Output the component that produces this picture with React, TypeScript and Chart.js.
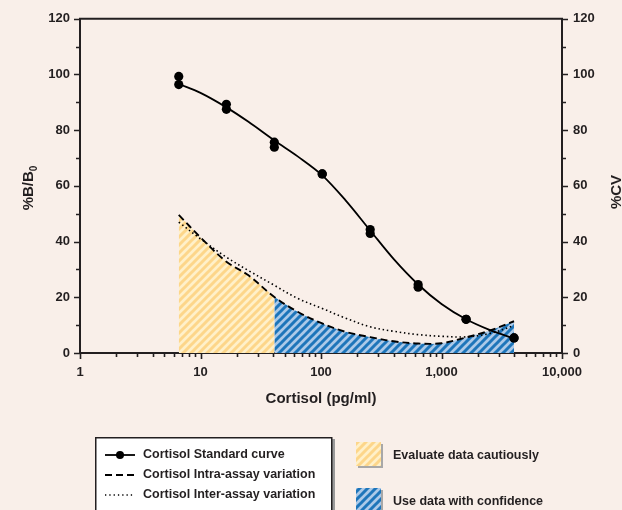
import { useEffect, useRef } from 'react';
import { Chart, registerables } from 'chart.js';

Chart.register(...registerables);

// Standard concentrations (pg/ml) and duplicate %B/B0 readings
const concentrations = [6.6, 16.4, 41, 102.4, 256, 640, 1600, 4000];
const replicateA = [99.3, 89.3, 75.7, 64.3, 44.3, 24.6, 12.1, 5.4];
const replicateB = [96.4, 87.5, 73.9, 64.3, 42.9, 23.6, 12.1, 5.4];

// Curves
const curveX = [6.6, 10, 16.4, 25, 41, 64, 102.4, 160, 256, 400, 640, 1000, 1600, 2500, 4000];
const standardCurve = [96.6, 93.4, 88.2, 83, 76.3, 70.6, 63.8, 54.8, 44, 33.8, 24.6, 17.6, 12.1, 8.3, 5.2];
const intraAssayCV = [49.6, 41.5, 32.8, 27.9, 20.1, 14.8, 10.6, 7.6, 5.7, 4.2, 3.4, 3.5, 5.6, 8, 11.4];
const interAssayCV = [47, 41, 34.4, 29.6, 24.3, 19.6, 16, 12.5, 9.4, 7.8, 6.6, 6, 5.8, 7, 9.8];
const cautionLimit = 41;

const yTickValues = [0, 20, 40, 60, 80, 100, 120];
const xDecades = [1, 10, 100, 1000, 10000];

const legendLines = [
  'Cortisol Standard curve',
  'Cortisol Intra-assay variation',
  'Cortisol Inter-assay variation',
];
const zoneLabels = ['Evaluate data cautiously', 'Use data with confidence'];

const BG = '#f9efe9';
const INK = '#231f20';
const FONT = '"Liberation Sans", Arial, Helvetica, sans-serif';

function makeStripes(bg: string, fg: string, lw: number) {
  const size = 8;
  const c = document.createElement('canvas');
  c.width = size;
  c.height = size;
  const g = c.getContext('2d')!;
  g.fillStyle = bg;
  g.fillRect(0, 0, size, size);
  g.strokeStyle = fg;
  g.lineWidth = lw;
  g.beginPath();
  for (const k of [0, size, 2 * size]) {
    g.moveTo(-2, k + 2);
    g.lineTo(k + 2, -2);
  }
  g.moveTo(size - 2, size * 2 + 2);
  g.lineTo(size * 2 + 2, size - 2);
  g.stroke();
  return g.createPattern(c, 'repeat')!;
}

export default function App() {
  const ref = useRef<HTMLCanvasElement>(null);

  useEffect(() => {
    document.body.style.margin = '0';
    document.body.style.background = BG;
    const canvas = ref.current!;
    const yellow = makeStripes('#fff0c9', '#fdd68a', 3.0);
    const blue = makeStripes('#abc9e8', '#1d75ba', 3.0);

    const pts = (xs: number[], ys: number[]) => xs.map((x, i) => ({ x, y: ys[i] }));
    const cautionPts = pts(curveX, intraAssayCV).filter((p) => p.x <= cautionLimit);
    const confidencePts = pts(curveX, intraAssayCV).filter((p) => p.x >= cautionLimit);
    const standards = concentrations.flatMap((c, i) => [
      { x: c, y: replicateA[i] },
      { x: c, y: replicateB[i] },
    ]);

    const decor = {
      id: 'decor',
      beforeDraw(chart: any) {
        const ctx = chart.ctx;
        ctx.save();
        ctx.fillStyle = BG;
        ctx.fillRect(0, 0, chart.width, chart.height);
        ctx.restore();
      },
      afterDraw(chart: any) {
        const ctx = chart.ctx as CanvasRenderingContext2D;
        const { left, right, top, bottom } = chart.chartArea;
        const xs = chart.scales.x;
        const ys = chart.scales.y;
        ctx.save();
        ctx.strokeStyle = INK;
        ctx.fillStyle = INK;
        // top border
        ctx.lineWidth = 2;
        ctx.beginPath();
        ctx.moveTo(left - 1, top);
        ctx.lineTo(right + 1, top);
        ctx.stroke();
        // y ticks both sides
        ctx.lineWidth = 1.6;
        ctx.beginPath();
        for (let v = 0; v <= 120; v += 10) {
          const y = Math.round(ys.getPixelForValue(v)) + 0.5;
          const len = v % 20 === 0 ? 6 : 4;
          ctx.moveTo(left, y);
          ctx.lineTo(left - len, y);
          ctx.moveTo(right, y);
          ctx.lineTo(right + len, y);
        }
        // x ticks (log)
        for (let d = 1; d < 10000; d *= 10) {
          for (let m = 1; m <= 10; m++) {
            const v = d * m;
            if (v > 10000) continue;
            const x = Math.round(xs.getPixelForValue(v)) + 0.5;
            const len = m === 1 || m === 10 ? 6 : 4;
            ctx.moveTo(x, bottom);
            ctx.lineTo(x, bottom + len);
          }
        }
        ctx.stroke();

        // axis titles
        ctx.textBaseline = 'middle';
        ctx.font = `bold 15px ${FONT}`;
        ctx.textAlign = 'center';
        ctx.fillText('Cortisol (pg/ml)', (left + right) / 2, 399);

        ctx.save();
        ctx.translate(29, 188);
        ctx.rotate(-Math.PI / 2);
        ctx.font = `bold 15px ${FONT}`;
        const main = '%B/B';
        const wMain = ctx.measureText(main).width;
        ctx.font = `bold 10px ${FONT}`;
        const wSub = ctx.measureText('0').width;
        const total = wMain + wSub;
        ctx.textAlign = 'left';
        ctx.font = `bold 15px ${FONT}`;
        ctx.fillText(main, -total / 2, 0);
        ctx.font = `bold 10px ${FONT}`;
        ctx.fillText('0', -total / 2 + wMain, 5);
        ctx.restore();

        ctx.save();
        ctx.translate(617, 192);
        ctx.rotate(-Math.PI / 2);
        ctx.font = `bold 15px ${FONT}`;
        ctx.textAlign = 'center';
        ctx.fillText('%CV', 0, 0);
        ctx.restore();

        // legend box
        ctx.fillStyle = '#9a9a9a';
        ctx.fillRect(97, 439, 238, 80);
        ctx.fillStyle = '#ffffff';
        ctx.fillRect(95, 437, 237, 80);
        ctx.strokeStyle = INK;
        ctx.lineWidth = 1.5;
        ctx.strokeRect(95.75, 437.75, 236, 80);

        const rowY = [455, 475, 495];
        ctx.font = `bold 12.5px ${FONT}`;
        ctx.textAlign = 'left';
        ctx.fillStyle = INK;
        legendLines.forEach((t, i) => ctx.fillText(t, 143, rowY[i]));
        // sample lines
        ctx.strokeStyle = '#000';
        ctx.lineWidth = 1.8;
        ctx.beginPath();
        ctx.moveTo(105, rowY[0]);
        ctx.lineTo(135, rowY[0]);
        ctx.stroke();
        ctx.fillStyle = '#000';
        ctx.beginPath();
        ctx.arc(120, rowY[0], 4, 0, Math.PI * 2);
        ctx.fill();
        ctx.setLineDash([7, 4]);
        ctx.beginPath();
        ctx.moveTo(105, rowY[1]);
        ctx.lineTo(135, rowY[1]);
        ctx.stroke();
        ctx.setLineDash([1.3, 3]);
        ctx.lineWidth = 1.3;
        ctx.beginPath();
        ctx.moveTo(105, rowY[2]);
        ctx.lineTo(135, rowY[2]);
        ctx.stroke();
        ctx.setLineDash([]);

        // zone swatches
        const sw = [
          { y: 442, pat: yellow, ty: 456 },
          { y: 488, pat: blue, ty: 502 },
        ];
        sw.forEach((s, i) => {
          ctx.fillStyle = '#a8a8a8';
          ctx.fillRect(358, s.y + 2, 25, 24);
          ctx.fillStyle = s.pat;
          ctx.fillRect(356, s.y, 25, 24);
          ctx.fillStyle = INK;
          ctx.font = `bold 12.5px ${FONT}`;
          ctx.fillText(zoneLabels[i], 393, s.ty);
        });
        ctx.restore();
      },
    };

    const tickFont = { family: FONT, size: 13, weight: 'bold' as const };
    const yAxisBase = {
      min: 0,
      max: 120,
      grid: { display: false, drawTicks: false },
      border: { display: true, color: INK, width: 2 },
      ticks: { stepSize: 20, padding: 10, color: INK, font: tickFont },
    };

    const smooth = { tension: 0.35, cubicInterpolationMode: 'default' };

    const chart = new Chart(canvas, {
      type: 'line',
      data: {
        datasets: [
          {
            label: 'standards',
            data: standards,
            showLine: false,
            pointRadius: 4.6,
            pointBackgroundColor: '#000',
            pointBorderColor: '#000',
            pointBorderWidth: 0,
            order: 0,
          },
          {
            label: 'curve',
            data: pts(curveX, standardCurve),
            borderColor: '#000',
            borderWidth: 1.8,
            pointRadius: 0,
            ...smooth,
            fill: false,
            order: 1,
          },
          {
            label: 'intra',
            data: pts(curveX, intraAssayCV),
            borderColor: '#000',
            borderWidth: 1.9,
            borderDash: [7, 4],
            pointRadius: 0,
            ...smooth,
            fill: false,
            yAxisID: 'y2',
            order: 2,
          },
          {
            label: 'inter',
            data: pts(curveX, interAssayCV),
            borderColor: '#000',
            borderWidth: 1.6,
            borderDash: [1.5, 2.8],
            pointRadius: 0,
            ...smooth,
            fill: false,
            yAxisID: 'y2',
            order: 3,
          },
          {
            label: 'caution',
            data: cautionPts,
            borderWidth: 0,
            borderColor: 'rgba(0,0,0,0)',
            backgroundColor: yellow,
            pointRadius: 0,
            ...smooth,
            fill: 'origin',
            yAxisID: 'y2',
            order: 4,
          },
          {
            label: 'confidence',
            data: confidencePts,
            borderWidth: 0,
            borderColor: 'rgba(0,0,0,0)',
            backgroundColor: blue,
            pointRadius: 0,
            ...smooth,
            fill: 'origin',
            yAxisID: 'y2',
            order: 5,
          },
        ] as any,
      },
      options: {
        responsive: false,
        animation: false,
        events: [],
        layout: { padding: { top: 17, left: 0, right: 0, bottom: 0 } },
        plugins: { legend: { display: false }, tooltip: { enabled: false } },
        scales: {
          x: {
            type: 'logarithmic',
            min: 1,
            max: 10000,
            grid: { display: false, drawTicks: false },
            border: { display: true, color: INK, width: 2 },
            ticks: {
              autoSkip: false,
              maxRotation: 0,
              padding: 12,
              color: INK,
              font: tickFont,
              callback: (v: any) =>
                xDecades.includes(Number(v)) ? Number(v).toLocaleString('en-US') : '',
            },
            afterFit: (s: any) => {
              s.height = 157;
            },
          },
          y: {
            ...yAxisBase,
            position: 'left',
            afterFit: (s: any) => {
              s.width = 80;
            },
            ticks: {
              ...yAxisBase.ticks,
              callback: (v: any) => (yTickValues.includes(Number(v)) ? String(v) : ''),
            },
          },
          y2: {
            ...yAxisBase,
            position: 'right',
            afterFit: (s: any) => {
              s.width = 60;
            },
            ticks: {
              ...yAxisBase.ticks,
              padding: 11,
              callback: (v: any) => (yTickValues.includes(Number(v)) ? String(v) : ''),
            },
          },
        },
      } as any,
      plugins: [decor],
    });
    return () => chart.destroy();
  }, []);

  return <canvas ref={ref} width={622} height={510} style={{ display: 'block' }} />;
}
